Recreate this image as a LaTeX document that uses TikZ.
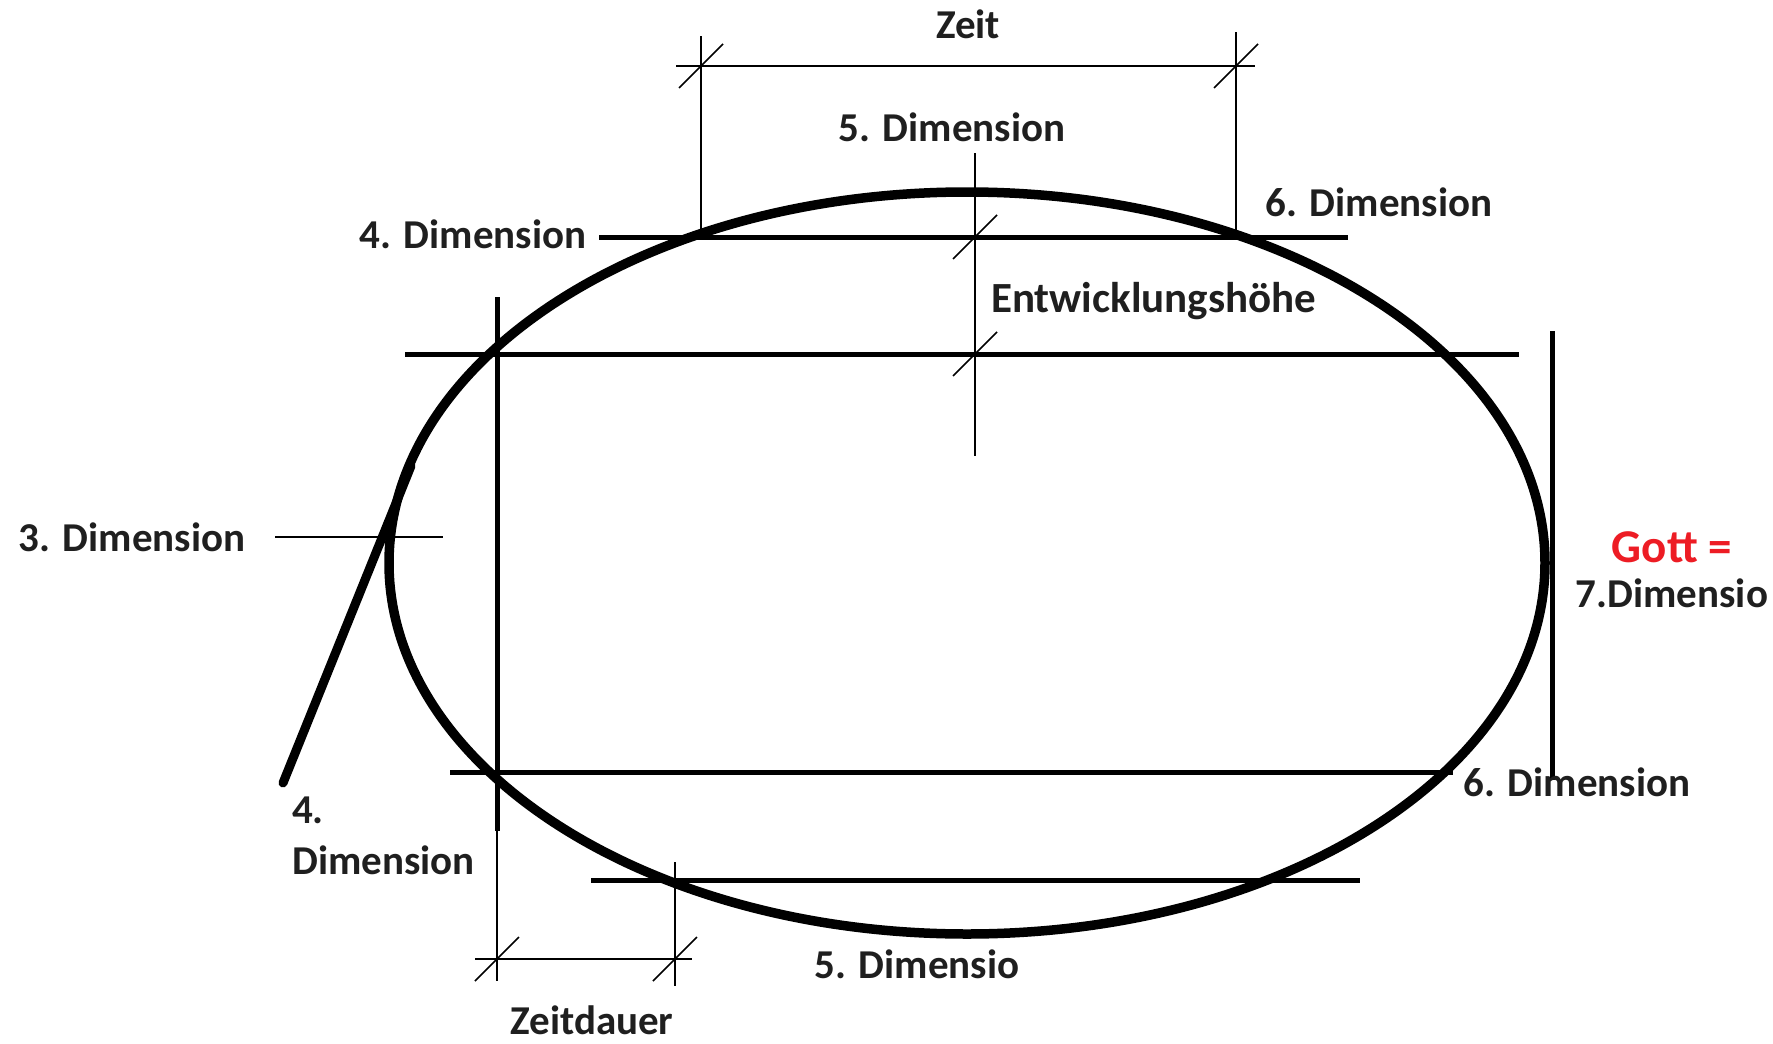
\documentclass[tikz,border=0pt]{standalone}
\usepackage{fontspec}
\setmainfont{Carlito}
\begin{document}
\begin{tikzpicture}[x=1pt,y=-1pt,
  ell/.style={line width=9.5pt},
  thick line/.style={line width=5pt},
  thin line/.style={line width=2pt},
  tickmark/.style={line width=1.6pt},
  lbl/.style={font=\fontsize{41}{46}\selectfont\bfseries, inner sep=0pt, anchor=base, text=black!88},
  lblw/.style={lbl, anchor=base west},
  lble/.style={lbl, anchor=base east}]
\useasboundingbox[fill=white] (0,0) rectangle (1773,1044);

% main ellipse
\draw[ell] (967,563) ellipse [x radius=578, y radius=371];

% horizontal thick lines
\draw[thick line] (599,237) -- (1348,237);
\draw[thick line] (405,354) -- (1519,354);
\draw[thick line] (450,772) -- (1453,772);
\draw[thick line] (591,880) -- (1360,880);

% vertical thick lines
\draw[thick line] (497,297) -- (497,831);
\draw[thick line] (1552,331) -- (1552,780);

% diagonal line (4. Dimension)
\draw[line width=9pt, line cap=round] (283,783) -- (411,466);

% 3. Dimension thin line
\draw[thin line] (275,537) -- (443,537);

% Zeit dimension
\draw[thin line] (701,36) -- (701,237);
\draw[thin line] (1236,32) -- (1236,237);
\draw[thin line] (676,66) -- (1255,66);
\draw[tickmark] (679,88) -- (723,44);
\draw[tickmark] (1214,88) -- (1258,44);

% Entwicklungshoehe dimension
\draw[thin line] (975,153) -- (975,456);
\draw[tickmark] (953,259) -- (997,215);
\draw[tickmark] (953,376) -- (997,332);

% Zeitdauer dimension
\draw[thin line] (497,831) -- (497,981);
\draw[thin line] (675,862) -- (675,986);
\draw[thin line] (475,959) -- (692,959);
\draw[tickmark] (475,981) -- (519,937);
\draw[tickmark] (653,981) -- (697,937);

% labels
\node[lbl] (zeit) at (968,38) {Zeit};
\node[lbl] (d5top) at (952,141) {5. Dimension};
\node[lbl] (d4top) at (473,248) {4. Dimension};
\node[lbl] (d6top) at (1379,216) {6. Dimension};
\node[lblw, font=\fontsize{43}{48}\selectfont\bfseries] (entw) at (991,312) {Entwicklungshöhe};
\node[lbl] (d3) at (132,551) {3. Dimension};
\node[lbl, font=\fontsize{47}{52}\selectfont\bfseries, text={rgb,255:red,237;green,28;blue,36}] (gott) at (1672,562) {Gott =};
\node[lbl] (d7) at (1672,607) {7.Dimensio};
\node[lblw] (d4a) at (292,823) {4.};
\node[lblw] (d4b) at (292,874) {Dimension};
\node[lbl] (d6bot) at (1577,796) {6. Dimension};
\node[lbl] (d5bot) at (917,978) {5. Dimensio};
\node[lbl] (zdauer) at (592,1034) {Zeitdauer};
\end{tikzpicture}
\end{document}
